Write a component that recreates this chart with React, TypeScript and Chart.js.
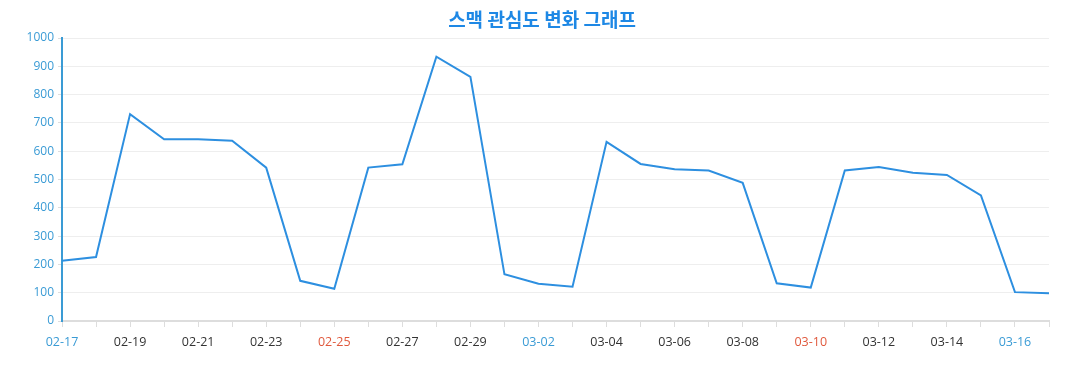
import React, { useEffect, useRef } from "react";
import { Chart, registerables } from "chart.js";

Chart.register(...registerables);

const TITLE = "스맥 관심도 변화 그래프";
const DATES = [
  "02-17", "02-18", "02-19", "02-20", "02-21", "02-22", "02-23", "02-24", "02-25", "02-26",
  "02-27", "02-28", "02-29", "03-01", "03-02", "03-03", "03-04", "03-05", "03-06", "03-07",
  "03-08", "03-09", "03-10", "03-11", "03-12", "03-13", "03-14", "03-15", "03-16", "03-17",
];
const VALUES = [
  213, 226, 731, 642, 642, 637, 542, 142, 114, 542,
  554, 934, 863, 165, 132, 121, 633, 555, 536, 532,
  488, 133, 118, 532, 544, 524, 516, 444, 102, 98,
];
// day kinds: "sat" | "sun" | "" (2024-02-17 is a Saturday)
const DAY_KIND = DATES.map((_, i) => (i % 7 === 0 ? "sat" : i % 7 === 1 ? "sun" : ""));
const Y_TICKS = [0, 100, 200, 300, 400, 500, 600, 700, 800, 900, 1000];

const titlePlugin = {
  id: "centeredTitle",
  afterDraw(chart: any) {
    const ctx = chart.ctx;
    ctx.save();
    ctx.font = "bold 19px 'Noto Sans CJK KR', 'Noto Sans', sans-serif";
    ctx.fillStyle = "#1e88e5";
    ctx.textAlign = "center";
    ctx.textBaseline = "middle";
    ctx.fillText(TITLE, 542, 20);
    ctx.restore();
  },
};

export default function App() {
  const ref = useRef<HTMLCanvasElement | null>(null);
  useEffect(() => {
    document.body.style.margin = "0";
    const chart = new Chart(ref.current!, {
      type: "line",
      data: {
        labels: DATES,
        datasets: [
          {
            data: VALUES,
            borderColor: "#2d8fe0",
            borderWidth: 2,
            pointRadius: 0,
            tension: 0,
            fill: false,
          },
        ],
      },
      plugins: [titlePlugin],
      options: {
        responsive: false,
        animation: false,
        layout: { padding: { left: 0, right: 28, top: 38, bottom: 0 } },
        plugins: {
          legend: { display: false },
          tooltip: { enabled: false },
          title: { display: false },
        },
        scales: {
          x: {
            offset: false,
            border: { color: "#dddddd", width: 2 },
            grid: { drawOnChartArea: false, drawTicks: true, tickLength: 6, color: "#dddddd" },
            ticks: {
              autoSkip: false,
              maxRotation: 0,
              padding: 8,
              font: { family: "'Open Sans', sans-serif", size: 12.5 },
              color: (ctx: any) => {
                const k = DAY_KIND[ctx.index];
                return k === "sat" ? "#3a9bd5" : k === "sun" ? "#e0583c" : "#333333";
              },
              callback: (_v: any, i: number) => (i % 2 === 0 ? DATES[i] : ""),
            },
            afterFit: (s: any) => {
              s.height = 69;
            },
          },
          y: {
            min: 0,
            max: 1000,
            border: { color: "#3a9bd5", width: 2 },
            grid: { color: "#eeeeee", tickLength: 4, tickColor: "#dddddd" },
            afterBuildTicks: (s: any) => {
              s.ticks = Y_TICKS.map((v) => ({ value: v }));
            },
            ticks: {
              color: "#3a9bd5",
              padding: 4,
              font: { family: "'Open Sans', sans-serif", size: 12 },
              callback: (v: any) => String(v),
            },
            afterFit: (s: any) => {
              s.width = 62;
            },
          },
        },
      },
    });
    return () => chart.destroy();
  }, []);
  return (
    <div style={{ width: 1077, height: 390 }}>
      <canvas ref={ref} width={1077} height={390} style={{ display: "block" }} />
    </div>
  );
}
